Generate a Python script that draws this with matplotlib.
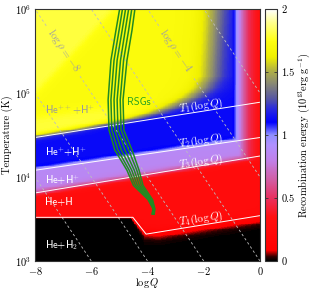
import numpy as np
import matplotlib
matplotlib.use("Agg")
import matplotlib.pyplot as plt
from matplotlib.colors import LinearSegmentedColormap

plt.rcParams["font.family"] = "cmr10"
plt.rcParams["mathtext.fontset"] = "cm"
plt.rcParams["axes.unicode_minus"] = False
plt.rcParams["axes.formatter.use_mathtext"] = True

# colour scale of the recombination energy (10^13 erg/g)
cmap_vals = [0.0, 0.03, 0.08, 0.35, 0.5, 0.65, 0.8, 0.92, 1.0, 1.1, 1.2, 1.3,
             1.42, 1.52, 1.62, 1.75, 1.9, 2.0]
cmap_cols = ["#000000", "#300000", "#ff0000", "#ff1010", "#e83060", "#d060a8",
             "#c080e8", "#b090ff", "#9090ff", "#0000ff", "#2828e0", "#5a5aa0",
             "#8c8c70", "#b4b440", "#f0f000", "#ffff10", "#ffff90", "#ffffff"]

# ionisation boundaries T1..T4 (log T against log Q)
t1_q = [-8.0, 0.0]
t1_t = [4.47, 4.89]
t2_q = [-8.0, 0.0]
t2_t = [4.08, 4.47]
t3_q = [-8.0, 0.0]
t3_t = [3.81, 4.25]
t4_q = [-8.0, -4.52, -4.05, 0.0]
t4_t = [3.52, 3.52, 3.32, 3.54]

# energy level of each ionisation state
levels = [0.0, 0.28, 0.86, 1.12, 1.72]   # He+H2, He+H, He+H+, He++H+, He+++H+

# field edges
red_edge_q = [-8.0, -4.6, -4.1, -3.6, 0.0]
red_edge_t = [3.52, 3.52, 3.34, 3.33, 3.50]
red_edge_w = [0.006, 0.006, 0.04, 0.04, 0.035]
yellow_edge_t = [4.55, 4.75, 4.85, 4.95, 5.05, 5.2, 6.0]
yellow_edge_q = [-6.0, -3.8, -3.0, -2.4, -2.0, -1.7, -1.55]
white_edge_q = [-8.0, -5.5, 0.0]
white_edge_t = [5.1, 6.0, 8.0]

# density contours
rho_levels = [-14, -12, -10, -8, -6, -4, -2, 0]

# RSG tracks
track_t = [6.02, 5.75, 5.39, 4.92, 4.56, 4.32, 4.08, 3.90, 3.73, 3.62, 3.56]
track_a = [-4.98, -5.12, -5.30, -5.40, -5.37, -5.16, -4.73, -4.50, -3.98, -3.80, -3.84]
track_b = [-4.88, -5.01, -5.19, -5.30, -5.27, -5.05, -4.65, -4.43, -3.95, -3.79, -3.82]
track_c = [-4.77, -4.90, -5.08, -5.19, -5.16, -4.93, -4.56, -4.36, -3.92, -3.78, -3.80]
track_d = [-4.66, -4.79, -4.96, -5.08, -5.05, -4.80, -4.47, -4.29, -3.88, -3.76, -3.78]
track_e = [-4.55, -4.67, -4.85, -4.97, -4.94, -4.67, -4.38, -4.22, -3.85, -3.75, -3.77]
track_f = [-4.44, -4.55, -4.73, -4.87, -4.84, -4.55, -4.30, -4.16, -3.82, -3.74, -3.76]


def sig(x):
    return 1.0 / (1.0 + np.exp(-x))


def build_field():
    q = np.linspace(-8, 0, 321)
    lt = np.linspace(3, 6, 301)
    Q, LT = np.meshgrid(q, lt)
    e4 = np.interp(Q, red_edge_q, red_edge_t)
    w4 = np.interp(Q, red_edge_q, red_edge_w)
    e3 = np.interp(Q, t3_q, t3_t)
    e2 = np.interp(Q, t2_q, t2_t) + 0.02
    e1 = np.interp(Q, t1_q, t1_t) + 0.015
    qy = np.interp(LT, yellow_edge_t, yellow_edge_q)
    ew = np.interp(Q, white_edge_q, white_edge_t)

    s1 = sig((LT - e1) / 0.02)
    E = (levels[0]
         + (levels[1] - levels[0]) * sig((LT - e4) / w4)
         + (levels[2] - levels[1]) * sig((LT - e3) / 0.025)
         + (levels[3] - levels[2]) * sig((LT - e2) / 0.012)
         + (levels[4] - levels[3]) * s1 * sig((qy - Q) / 0.3))
    # paler yellow just above T1 at low Q
    E = E + 0.15 * s1 * np.exp(-((LT - e1 - 0.1) / 0.12) ** 2) * sig((-5.0 - Q) / 0.6)
    E = E + 0.5 * sig((LT - ew) / 0.06)
    # drop at high log Q
    cap = 0.3 + 1.5 * sig((-0.88 - Q) / 0.25)
    k = 0.04
    E = -k * np.logaddexp(-E / k, -cap / k)
    return q, lt, E


def main():
    cmap = LinearSegmentedColormap.from_list(
        "recomb", list(zip(np.array(cmap_vals) / 2.0, cmap_cols)))
    q, lt, E = build_field()

    fig = plt.figure(figsize=(3.14, 2.89), dpi=100)
    ax = fig.add_axes([35 / 314, 1 - 261 / 289, 225 / 314, 252 / 289])
    cax = fig.add_axes([265 / 314, 1 - 261 / 289, 12 / 314, 252 / 289])

    mesh = ax.pcolormesh(q, 10 ** lt, E, cmap=cmap, vmin=0, vmax=2,
                         shading="auto", rasterized=True)

    # log rho = const dashed lines (log Q = log rho - 2 log T + 12)
    for rho in rho_levels:
        if rho in (-8, -4):
            segs = [(3.0, 5.2), (5.8, 6.0)]
        else:
            segs = [(3.0, 6.0)]
        for lo, hi in segs:
            lts = np.array([lo, hi])
            ax.plot(rho + 12 - 2 * lts, 10 ** lts, color="#bdbdbd", lw=0.6,
                    dashes=(3, 3))
    for rho in (-8, -4):
        ax.text(rho + 12 - 2 * 5.5, 10 ** 5.5, r"$\log\rho=%d$" % rho,
                rotation=-56, color="#a0a0a0", fontsize=8,
                ha="center", va="center", rotation_mode="anchor")

    # ionisation boundaries
    for bq, bt in [(t1_q, t1_t), (t2_q, t2_t), (t3_q, t3_t), (t4_q, t4_t)]:
        ax.plot(bq, 10 ** np.array(bt), color="white", lw=0.7)
    tl = [(4.85, r"$T_1(\log Q)$"), (4.43, r"$T_2(\log Q)$"),
          (4.18, r"$T_3(\log Q)$"), (3.50, r"$T_4(\log Q)$")]
    for y, s in tl:
        ax.text(-2.1, 10 ** y, s, color="white", fontsize=8, rotation=8.5,
                ha="center", va="center")

    # RSG tracks
    for tr in [track_a, track_b, track_c, track_d, track_e, track_f]:
        ax.plot(tr, 10 ** np.array(track_t), color="#228b22", lw=1.1)
    ax.text(-4.3, 10 ** 4.89, "RSGs", color="#22a022", fontsize=7.5,
            family="cmss10", ha="center", va="center")

    regions = [(4.80, r"He$^{++}$+H$^{+}$", "#9a9a9a"),
               (4.30, r"He$^{+}$+H$^{+}$", "white"),
               (3.96, r"He+H$^{+}$", "white"),
               (3.70, "He+H", "white"),
               (3.19, r"He+H$_2$", "white")]
    for y, s, c in regions:
        ax.text(-7.65, 10 ** y, s, color=c, fontsize=7.5, family="cmss10",
                ha="left", va="center")

    ax.set_xlim(-8, 0)
    ax.set_yscale("log")
    ax.set_ylim(1e3, 1e6)
    ax.set_xticks([-8, -6, -4, -2, 0])
    ax.set_yticks([1e3, 1e4, 1e5, 1e6])
    ax.minorticks_off()
    ax.tick_params(length=0, pad=3, labelsize=7.5)
    ax.set_xlabel(r"$\log Q$", fontsize=7.5, labelpad=-1)
    ax.set_ylabel("Temperature (K)", fontsize=7.5, labelpad=1)
    for sp in ax.spines.values():
        sp.set_linewidth(0.8)
        sp.set_color("#333333")

    cb = fig.colorbar(mesh, cax=cax)
    cb.set_ticks([0, 0.5, 1, 1.5, 2])
    cb.set_ticklabels(["0", "0.5", "1", "1.5", "2"])
    cax.tick_params(direction="in", length=2.5, width=0.6, left=True,
                    right=True, labelsize=7.5, pad=3, color="#333333")
    cb.outline.set_linewidth(0.8)
    cb.outline.set_edgecolor("#333333")
    cb.set_label(r"Recombination energy ($10^{13}\mathrm{erg\ g}^{-1}$)",
                 fontsize=7.5, labelpad=1.5)

    fig.savefig("out.png", dpi=100)


if __name__ == "__main__":
    main()
